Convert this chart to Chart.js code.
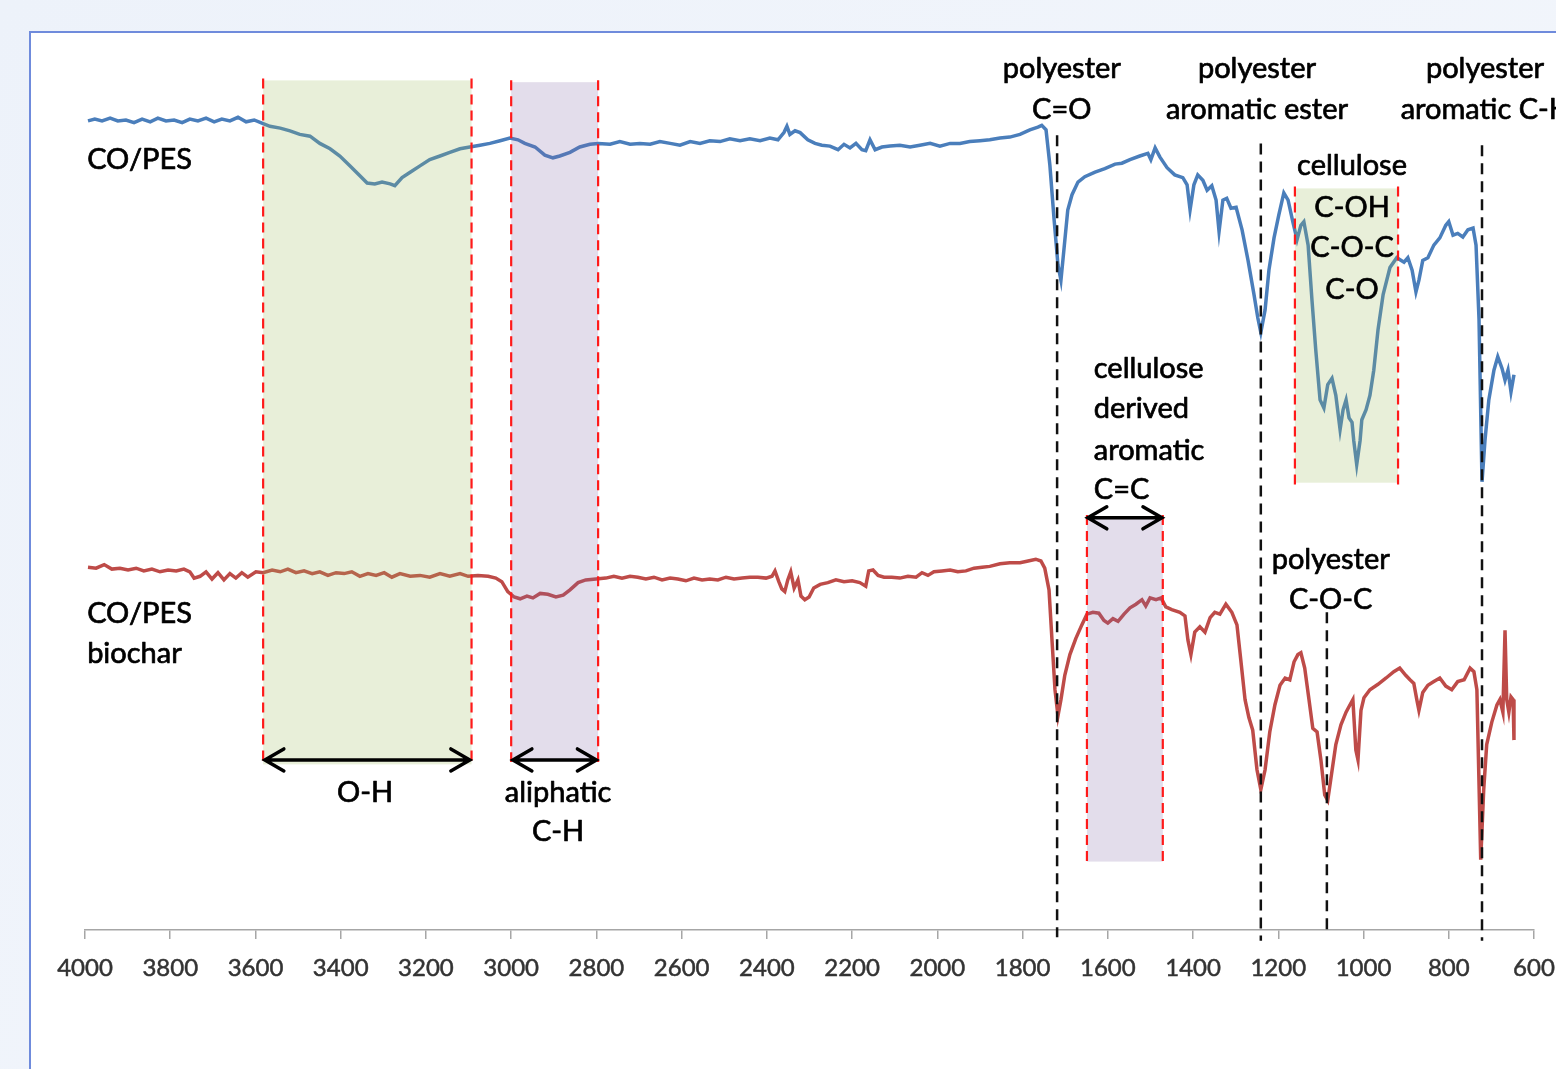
<!DOCTYPE html>
<html>
<head>
<meta charset="utf-8">
<title>FTIR CO/PES</title>
<script src="https://cdn.jsdelivr.net/npm/chart.js@4.4.1/dist/chart.umd.min.js"></script>
<style>
  html, body { margin: 0; padding: 0; width: 1556px; height: 1069px; overflow: hidden; }
  body { background: linear-gradient(135deg, #edf2fa 0%, #f4f7fc 100%); position: relative; }
  #frame { position: absolute; left: 29px; top: 31px; width: 1600px; height: 1100px; background: #fff; border: 2px solid #6f8bdc; }
  #ftirChart { position: absolute; left: 0; top: 0; }
</style>
</head>
<body>
<div id="frame"></div>
<canvas id="ftirChart" width="1556" height="1069"></canvas>
<script>
// x axis ticks (wavenumber, cm-1)
const xTicks = [4000, 3800, 3600, 3400, 3200, 3000, 2800, 2600, 2400, 2200, 2000, 1800, 1600, 1400, 1200, 1000, 800, 600];

// CO/PES (blue)
const blueWavenumbers = [3993, 3977, 3960, 3941, 3923, 3904, 3885, 3866, 3847, 3829, 3810, 3791, 3772, 3754, 3735, 3716, 3697, 3679, 3660, 3641, 3622, 3603,
  3582, 3566, 3542, 3519, 3496, 3472, 3449, 3425, 3402, 3378, 3355, 3338, 3320, 3303, 3284, 3273, 3256, 3237, 3214, 3191, 3167, 3144, 3120, 3097,
  3073, 3050, 3026, 3003, 2984, 2968, 2944, 2921, 2902, 2886, 2862, 2839, 2815, 2796,
  2768, 2745, 2721, 2698, 2674, 2651, 2627, 2604, 2580, 2557, 2534, 2510, 2487, 2463, 2440, 2416, 2393, 2374, 2360, 2353, 2346, 2334, 2322, 2304,
  2287, 2271, 2252, 2233, 2219, 2205, 2191, 2177, 2168, 2158, 2146, 2130, 2111, 2088, 2064, 2041, 2017, 1994, 1970, 1947, 1924, 1900, 1877, 1853,
  1830, 1806, 1783, 1764, 1755, 1745, 1736, 1726, 1717, 1710, 1703, 1694, 1684, 1670, 1654, 1630, 1607, 1583, 1567, 1548, 1525, 1506, 1499, 1489,
  1478, 1461, 1443, 1424, 1414, 1407, 1398, 1389, 1377, 1367, 1356, 1346, 1339, 1330, 1321, 1311, 1299, 1285, 1271, 1257, 1248, 1241, 1231, 1222,
  1210, 1199, 1187, 1177, 1166, 1156, 1147, 1140, 1130, 1121, 1112, 1102, 1093, 1084, 1074, 1065, 1055, 1048, 1041, 1034, 1027, 1023, 1016, 1008,
  1004, 994, 985, 976, 966, 954, 938, 922, 905, 896, 886, 877, 870, 861, 849, 835, 821, 807, 800, 790, 779, 767, 755, 743, 736, 729, 722, 715,
  706, 694, 685, 675, 668, 661, 654, 647];
const blueValues = [89.9, 90.1, 89.9, 90.2, 89.9, 90.0, 89.7, 90.1, 89.8, 90.2, 89.9, 90.0, 89.7, 90.1, 89.9, 90.2, 89.8, 90.1, 89.9, 90.3, 89.8, 90.0,
  89.6, 89.3, 89.1, 88.8, 88.4, 88.2, 87.4, 86.8, 86.0, 84.9, 83.8, 83.0, 82.9, 83.1, 82.9, 82.7, 83.6, 84.2, 84.9, 85.6, 86.0, 86.4, 86.8, 87.0,
  87.2, 87.4, 87.7, 88.0, 87.8, 87.4, 87.0, 86.1, 85.8, 86.0, 86.4, 87.0, 87.3, 87.4,
  87.3, 87.6, 87.3, 87.4, 87.3, 87.6, 87.4, 87.2, 87.6, 87.4, 87.7, 87.6, 87.9, 87.7, 87.9, 87.7, 88.0, 87.8, 88.6, 89.3, 88.4, 88.8, 88.6, 87.8,
  87.4, 87.2, 87.1, 86.7, 87.3, 86.9, 87.4, 86.7, 86.6, 87.8, 86.7, 87.0, 87.1, 87.2, 87.0, 87.2, 87.4, 87.1, 87.4, 87.4, 87.6, 87.7, 87.8, 88.0,
  88.1, 88.4, 88.9, 89.2, 89.4, 88.9, 85.0, 78.9, 73.9, 72.2, 75.6, 80.0, 81.7, 83.1, 83.7, 84.2, 84.6, 85.1, 85.2, 85.6, 86.0, 86.3, 85.6, 86.9,
  85.9, 84.7, 83.9, 83.6, 82.8, 80.0, 82.8, 83.9, 83.3, 82.2, 82.7, 81.1, 77.6, 81.1, 81.3, 80.2, 80.3, 77.8, 74.4, 70.6, 68.0, 66.4, 68.9, 73.3,
  76.9, 79.4, 81.9, 81.1, 78.7, 76.7, 78.3, 78.7, 76.1, 70.0, 64.4, 58.9, 58.0, 60.6, 61.3, 59.4, 55.6, 57.8, 58.9, 56.9, 56.4, 54.4, 51.7, 54.4,
  56.7, 57.8, 59.4, 62.2, 66.7, 70.6, 73.6, 74.7, 74.2, 74.7, 73.3, 70.9, 72.2, 74.4, 74.7, 76.1, 76.9, 78.3, 78.7, 77.2, 77.4, 77.0, 77.8, 78.0, 76.1, 67.8, 49.8, 54.4,
  58.9, 62.2, 63.7, 62.4, 61.1, 62.2, 59.8, 61.7];

// CO/PES biochar (red)
const redWavenumbers = [3993, 3974, 3955, 3937, 3918, 3899, 3880, 3862, 3843, 3824, 3805, 3786, 3768, 3754, 3744, 3730, 3716, 3702, 3688, 3674, 3660, 3646,
  3632, 3618, 3599, 3582, 3561, 3542, 3524, 3505, 3486, 3467, 3449, 3430, 3411, 3392, 3374, 3355, 3336, 3317, 3298, 3280, 3261, 3237, 3214, 3191,
  3167, 3144, 3120, 3101, 3078, 3054, 3036, 3022, 3008, 2993, 2979, 2963, 2949, 2932, 2914, 2895, 2878, 2862, 2843, 2825, 2801,
  2778, 2759, 2740, 2721, 2703, 2684, 2665, 2646, 2627, 2609, 2590, 2571, 2552, 2534, 2515, 2496, 2477, 2458, 2440, 2421, 2402, 2388, 2381, 2372,
  2365, 2358, 2351, 2344, 2336, 2327, 2320, 2311, 2301, 2290, 2275, 2257, 2238, 2219, 2200, 2182, 2168, 2161, 2151, 2139, 2125, 2107, 2088, 2069,
  2050, 2036, 2022, 2008, 1989, 1970, 1952, 1933, 1914, 1895, 1877, 1853, 1830, 1806, 1787, 1769, 1757, 1748, 1738, 1731, 1724, 1717, 1710, 1701,
  1689, 1675, 1661, 1649, 1635, 1621, 1609, 1600, 1588, 1576, 1562, 1548, 1534, 1520, 1511, 1501, 1487, 1475, 1464, 1450, 1431, 1419, 1412, 1405,
  1396, 1384, 1372, 1360, 1349, 1337, 1323, 1309, 1297, 1288, 1278, 1269, 1260, 1250, 1241, 1231, 1220, 1208, 1196, 1184, 1173, 1163, 1154, 1147,
  1138, 1128, 1119, 1109, 1100, 1091, 1084, 1077, 1065, 1053, 1041, 1032, 1025, 1018, 1013, 1006, 999, 985, 966, 947, 929, 915, 901, 891, 882,
  875, 870, 861, 849, 835, 821, 807, 793, 779, 764, 750, 741, 734, 725, 718, 711, 699, 687, 680, 673, 668, 664, 659, 654, 649, 647];
const redValues = [40.3, 40.2, 40.6, 40.1, 40.2, 40.0, 40.2, 39.9, 40.1, 39.8, 40.0, 39.9, 40.1, 39.8, 39.1, 39.3, 39.8, 39.0, 39.7, 38.9, 39.6, 39.1,
  39.7, 39.2, 39.8, 39.7, 40.0, 39.8, 40.1, 39.7, 39.9, 39.6, 39.8, 39.4, 39.7, 39.6, 39.8, 39.3, 39.6, 39.4, 39.7, 39.2, 39.6, 39.3, 39.4, 39.2,
  39.6, 39.3, 39.6, 39.3, 39.4, 39.3, 39.1, 38.7, 37.6, 37.0, 36.8, 37.1, 36.9, 37.4, 37.3, 37.0, 37.2, 37.8, 38.6, 38.9, 39.0,
  39.1, 39.3, 39.1, 39.3, 39.2, 39.0, 39.2, 38.9, 39.1, 39.0, 38.8, 39.1, 38.9, 39.0, 38.9, 39.2, 39.0, 39.1, 39.2, 39.2, 39.1, 39.3, 39.9, 38.7,
  37.9, 37.6, 38.9, 39.8, 38.0, 38.9, 37.1, 36.7, 37.0, 38.0, 38.4, 38.6, 38.9, 38.7, 38.8, 38.6, 38.2, 39.9, 40.0, 39.4, 39.2, 39.2, 39.1, 39.3,
  39.2, 39.7, 39.4, 39.8, 39.9, 40.0, 39.8, 39.9, 40.2, 40.3, 40.4, 40.7, 40.8, 40.8, 41.0, 41.2, 41.0, 40.2, 37.8, 32.2, 26.7, 23.8, 25.6, 28.3,
  30.6, 32.4, 33.9, 35.1, 35.3, 35.2, 34.4, 34.1, 34.6, 34.3, 35.1, 35.8, 36.2, 36.7, 36.0, 36.9, 36.7, 36.9, 35.9, 35.6, 35.3, 34.9, 32.2, 30.6,
  33.1, 33.7, 33.1, 34.7, 35.3, 35.1, 36.2, 35.3, 33.9, 30.0, 25.6, 23.6, 22.2, 17.8, 15.6, 17.8, 22.0, 25.0, 27.2, 28.0, 27.8, 29.8, 30.6, 30.8,
  29.1, 25.6, 22.4, 22.0, 18.9, 15.0, 14.4, 16.7, 20.6, 22.8, 24.2, 25.0, 25.6, 20.0, 18.9, 24.4, 25.8, 26.7, 27.3, 28.0, 28.7, 29.1, 28.3, 27.8, 27.4,
  25.6, 24.4, 26.4, 27.2, 27.6, 28.0, 27.1, 26.7, 27.6, 27.8, 29.1, 28.7, 26.7, 7.8, 15.6, 20.6, 23.1, 25.0, 25.6, 24.2, 33.3, 25.6, 24.2, 25.9, 25.6, 21.1];

// annotation bands, peak markers and labels (wavenumber / value units)
const bands = [
  { from: 3582, to: 3093, top: 94.4, bottom: 18.4, color: 'rgba(155, 187, 89, 0.23)' },
  { from: 3000, to: 2796, top: 94.2, bottom: 18.9, color: 'rgba(128, 100, 162, 0.22)' },
  { from: 1161, to: 919, top: 82.4, bottom: 49.7, color: 'rgba(155, 187, 89, 0.23)' },
  { from: 1649, to: 1471, top: 45.9, bottom: 7.6, color: 'rgba(128, 100, 162, 0.22)' }
];
const peakLines = [
  { wn: 1719, top: 88.3, bottom: -0.8 },
  { wn: 1241, top: 87.4, bottom: -1.2 },
  { wn: 1086, top: 35.3, bottom: 0 },
  { wn: 722, top: 87.2, bottom: -1.2 }
];
const arrows = [
  { from: 3578, to: 3097, y: 18.9 },
  { from: 2996, to: 2800, y: 18.9 },
  { from: 1647, to: 1473, y: 45.8 }
];
const labels = [
  { text: 'CO/PES', wn: 3995, y: 85.6, align: 'left' },
  { text: 'CO/PES', wn: 3995, y: 35.2, align: 'left' },
  { text: 'biochar', wn: 3995, y: 30.7, align: 'left' },
  { text: 'O-H', wn: 3343, y: 15.3 },
  { text: 'aliphatic', wn: 2890, y: 15.3 },
  { text: 'C-H', wn: 2890, y: 10.9 },
  { text: 'polyester', wn: 1708, y: 95.7 },
  { text: 'C=O', wn: 1708, y: 91.2 },
  { text: 'polyester', wn: 1250, y: 95.7 },
  { text: 'aromatic ester', wn: 1250, y: 91.2 },
  { text: 'polyester', wn: 715, y: 95.7 },
  { text: 'aromatic C-H', wn: 713, y: 91.2 },
  { text: 'cellulose', wn: 1027, y: 84.9 },
  { text: 'C-OH', wn: 1027, y: 80.3 },
  { text: 'C-O-C', wn: 1027, y: 75.8 },
  { text: 'C-O', wn: 1027, y: 71.2 },
  { text: 'cellulose', wn: 1633, y: 62.4, align: 'left' },
  { text: 'derived', wn: 1633, y: 57.9, align: 'left' },
  { text: 'aromatic', wn: 1633, y: 53.3, align: 'left' },
  { text: 'C=C', wn: 1633, y: 48.9, align: 'left' },
  { text: 'polyester', wn: 1077, y: 41.1 },
  { text: 'C-O-C', wn: 1077, y: 36.7 }
];

function toPoints(xs, ys) {
    return xs.map((x, i) => ({ x: x, y: ys[i] }));
}

const annotationPlugin = {
    id: 'ftirAnnotations',
    afterDatasetsDraw(chart) {
        const ctx = chart.ctx;
        const xs = chart.scales.x;
        const ys = chart.scales.y;
        ctx.save();

        // shaded bands with red dashed edges
        bands.forEach(b => {
            const x1 = xs.getPixelForValue(b.from);
            const x2 = xs.getPixelForValue(b.to);
            const y1 = ys.getPixelForValue(b.top);
            const y2 = ys.getPixelForValue(b.bottom);
            ctx.fillStyle = b.color;
            ctx.fillRect(x1, y1, x2 - x1, y2 - y1);
            ctx.strokeStyle = '#ff1a1a';
            ctx.lineWidth = 2.2;
            ctx.setLineDash([10, 6]);
            [x1, x2].forEach(x => {
                ctx.beginPath();
                ctx.moveTo(x, y1 - 2);
                ctx.lineTo(x, y2 + 2);
                ctx.stroke();
            });
        });

        // black dashed peak markers
        ctx.strokeStyle = '#111';
        ctx.lineWidth = 2.5;
        ctx.setLineDash([11, 7]);
        peakLines.forEach(p => {
            const x = xs.getPixelForValue(p.wn);
            ctx.beginPath();
            ctx.moveTo(x, ys.getPixelForValue(p.top));
            ctx.lineTo(x, ys.getPixelForValue(p.bottom));
            ctx.stroke();
        });
        ctx.setLineDash([]);

        // double headed arrows
        ctx.strokeStyle = '#000';
        ctx.lineWidth = 3.5;
        ctx.lineCap = 'round';
        arrows.forEach(a => {
            const x1 = xs.getPixelForValue(a.from);
            const x2 = xs.getPixelForValue(a.to);
            const y = ys.getPixelForValue(a.y);
            ctx.beginPath();
            ctx.moveTo(x1, y);
            ctx.lineTo(x2, y);
            ctx.moveTo(x1 + 19, y - 11);
            ctx.lineTo(x1, y);
            ctx.lineTo(x1 + 19, y + 11);
            ctx.moveTo(x2 - 19, y - 11);
            ctx.lineTo(x2, y);
            ctx.lineTo(x2 - 19, y + 11);
            ctx.stroke();
        });

        // text labels (thin stroke to match the heavier original lettering)
        ctx.fillStyle = '#000';
        ctx.strokeStyle = '#000';
        ctx.lineWidth = 0.7;
        ctx.lineJoin = 'round';
        ctx.font = '29px Lato';
        ctx.textBaseline = 'middle';
        labels.forEach(l => {
            ctx.textAlign = l.align || 'center';
            const x = xs.getPixelForValue(l.wn);
            const y = ys.getPixelForValue(l.y);
            ctx.fillText(l.text, x, y);
            ctx.strokeText(l.text, x, y);
        });
        ctx.restore();
    }
};

document.addEventListener('DOMContentLoaded', function() {
    const ctx = document.getElementById('ftirChart').getContext('2d');
    new Chart(ctx, {
        type: 'line',
        data: {
            datasets: [{
                label: 'CO/PES',
                data: toPoints(blueWavenumbers, blueValues),
                borderColor: '#4a7ebb',
                borderWidth: 3.5,
                pointRadius: 0,
                fill: false,
                tension: 0
            }, {
                label: 'CO/PES biochar',
                data: toPoints(redWavenumbers, redValues),
                borderColor: '#be4b48',
                borderWidth: 3.5,
                pointRadius: 0,
                fill: false,
                tension: 0
            }]
        },
        options: {
            responsive: false,
            animation: false,
            layout: {
                autoPadding: false,
                padding: { left: 85, right: 22, top: 30, bottom: 79 }
            },
            plugins: {
                legend: { display: false },
                tooltip: { enabled: false }
            },
            scales: {
                x: {
                    type: 'linear',
                    reverse: true,
                    min: 600,
                    max: 4000,
                    afterBuildTicks: scale => { scale.ticks = xTicks.map(v => ({ value: v })); },
                    afterFit: scale => {
                        scale.height = 60;
                        scale.paddingLeft = 0;
                        scale.paddingRight = 0;
                    },
                    grid: { drawOnChartArea: false, drawTicks: true, tickLength: 9, color: '#a6a6a6', lineWidth: 1.5 },
                    border: { display: true, color: '#a6a6a6', width: 1.5 },
                    ticks: {
                        autoSkip: false,
                        maxRotation: 0,
                        padding: 15,
                        color: '#333333',
                        textStrokeColor: '#333333',
                        textStrokeWidth: 0.5,
                        font: { family: 'Lato', size: 24 },
                        callback: value => String(value)
                    }
                },
                y: { display: false, min: 0, max: 100 }
            }
        },
        plugins: [annotationPlugin]
    });
});
</script>
</body>
</html>
